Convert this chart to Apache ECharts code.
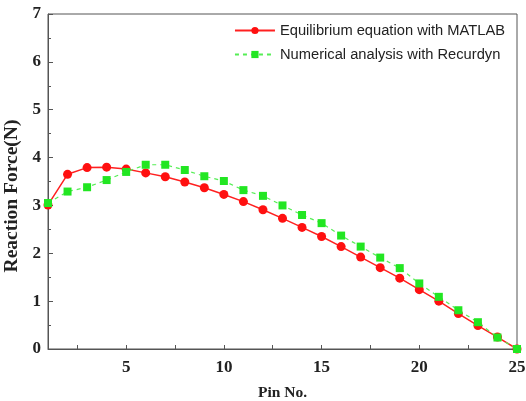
<!DOCTYPE html>
<html><head><meta charset="utf-8">
<script src="https://cdn.jsdelivr.net/npm/echarts@6/dist/echarts.min.js"></script>
<style>html,body{margin:0;padding:0;background:#fff}#c{width:526px;height:401px}</style>
</head><body><div id="c"></div>
<script>
var pins = [1,2,3,4,5,6,7,8,9,10,11,12,13,14,15,16,17,18,19,20,21,22,23,24,25];
var matlab = [3.01,3.65,3.79,3.80,3.76,3.68,3.60,3.49,3.37,3.23,3.08,2.91,2.73,2.54,2.35,2.14,1.92,1.70,1.48,1.24,1.00,0.74,0.49,0.25,0.0];
var recurdyn = [3.05,3.29,3.38,3.53,3.70,3.85,3.85,3.74,3.61,3.51,3.32,3.20,3.00,2.80,2.63,2.37,2.14,1.91,1.69,1.37,1.09,0.81,0.56,0.24,0.0];
var xTickVals = [2.5,5,7.5,10,12.5,15,17.5,20,22.5,25];
var xLabelVals = [5,10,15,20,25];
var names = ['Equilibrium equation with MATLAB','Numerical analysis with Recurdyn'];

function pairs(ys){return pins.map(function(p,i){return [p, ys[i]];});}

var chart = echarts.init(document.getElementById('c'), null, {renderer:'canvas'});
var serif = '"Liberation Serif","Times New Roman",serif';
chart.setOption({
  animation:false,
  grid:{left:48,right:9,top:14,bottom:52,show:true,borderColor:'#555',borderWidth:1,outerBoundsMode:'none',containLabel:false},
  legend:{
    data:names, orient:'vertical', right:16, top:18, itemWidth:40, itemHeight:9, itemGap:9,
    textStyle:{fontFamily:'"Liberation Sans",Arial,sans-serif',fontSize:14.7,color:'#222'}
  },
  xAxis:{
    type:'value', min:1, max:25,
    name:'Pin No.', nameLocation:'middle', nameGap:36,
    nameTextStyle:{fontFamily:serif,fontWeight:'bold',fontSize:15.5,color:'#222'},
    axisLine:{lineStyle:{color:'#555',width:1}},
    axisTick:{inside:true,length:4,customValues:xTickVals,lineStyle:{color:'#555'}},
    axisLabel:{customValues:xLabelVals,fontFamily:serif,fontWeight:'bold',fontSize:17,color:'#222',margin:10},
    splitLine:{show:false}
  },
  yAxis:{
    type:'value', min:0, max:7, interval:1,
    name:'Reaction Force(N)', nameLocation:'middle', nameGap:12,
    nameTextStyle:{fontFamily:serif,fontWeight:'bold',fontSize:19.5,color:'#222',padding:[0,29,0,0]},
    axisLine:{show:true,lineStyle:{color:'#555',width:1}},
    axisTick:{show:true,inside:true,length:5,lineStyle:{color:'#555'}},
    minorTick:{show:true,splitNumber:2,length:3,lineStyle:{color:'#555'}},
    axisLabel:{fontFamily:serif,fontWeight:'bold',fontSize:17,color:'#222',margin:7},
    splitLine:{show:false}
  },
  series:[
    {name:names[0],type:'line',data:pairs(matlab),symbol:'circle',symbolSize:9,
     itemStyle:{color:'#ff1010'},lineStyle:{color:'#ff2020',width:1.5},z:2},
    {name:names[1],type:'line',data:pairs(recurdyn),symbol:'rect',symbolSize:8,
     itemStyle:{color:'#22e622'},lineStyle:{color:'#55ee55',width:1.2,type:[4,4]},z:3}
  ]
});
</script></body></html>
